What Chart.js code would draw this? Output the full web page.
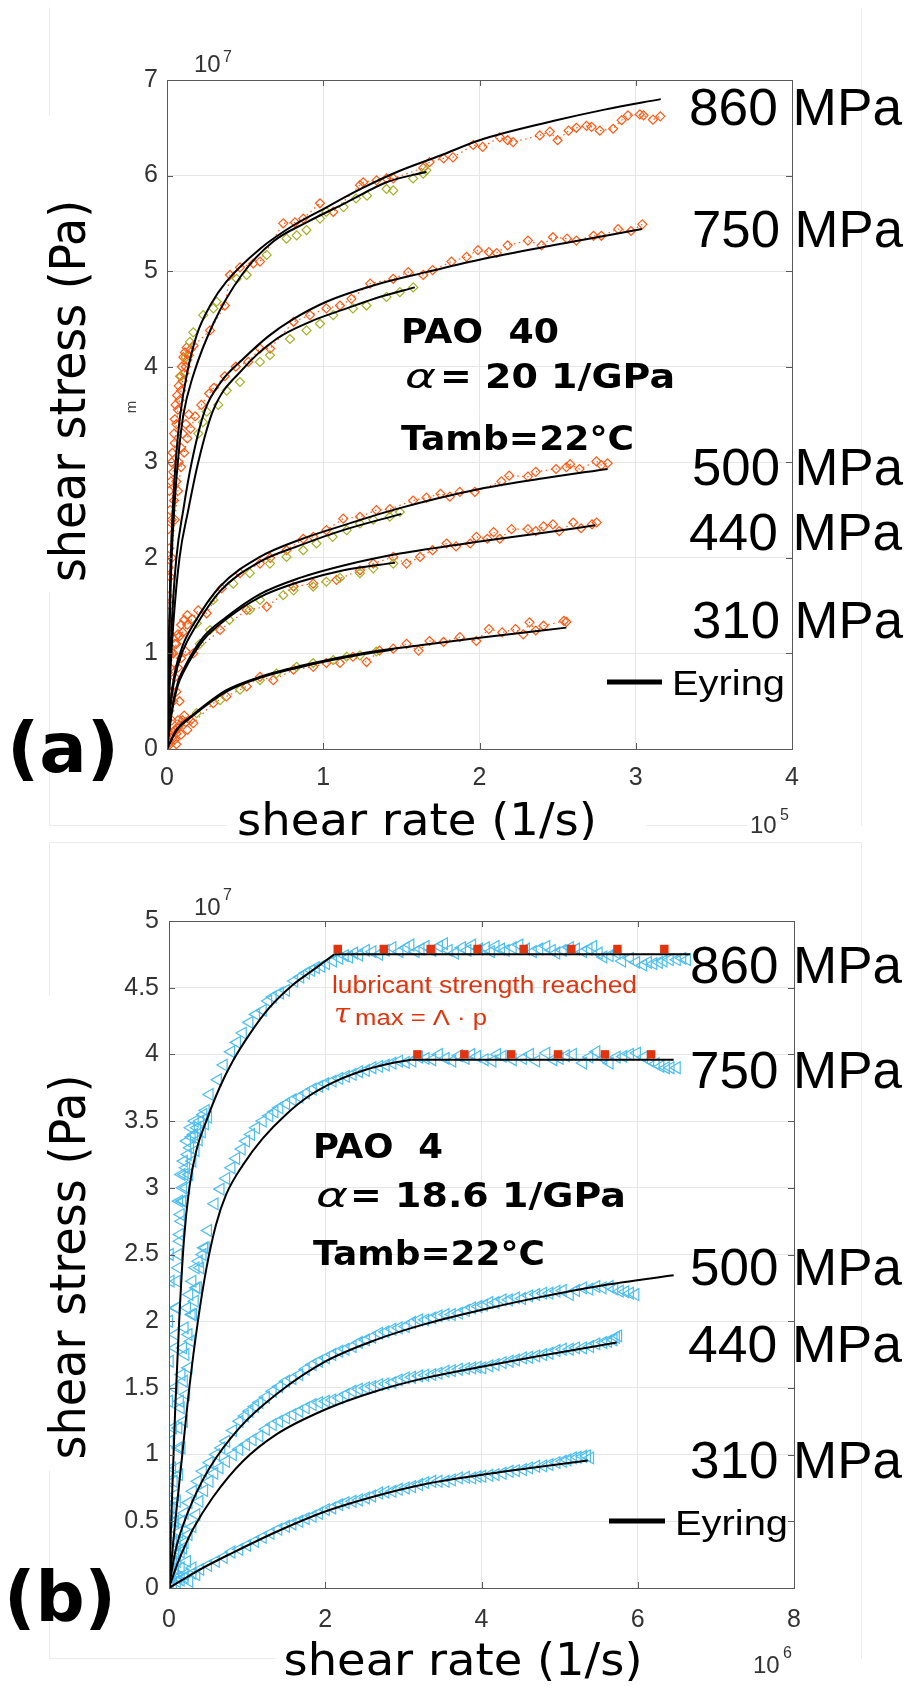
<!DOCTYPE html>
<html>
<head>
<meta charset="utf-8">
<title>PAO 40 / PAO 4 shear stress vs shear rate</title>
<script src="https://cdn.jsdelivr.net/npm/chart.js@4.4.1/dist/chart.umd.min.js"></script>
<style>
    html, body { margin: 0; padding: 0; background: #fff; }
    #page { position: relative; width: 904px; height: 1686px; overflow: hidden; background: #fff; }
    #page canvas { position: absolute; left: 0; }
    #chartA { top: 0; }
    #chartB { top: 840px; }
</style>
</head>
<body>
<div id="page">
    <canvas id="chartA" width="904" height="840"></canvas>
    <canvas id="chartB" width="904" height="846"></canvas>
</div>
<script>
// ---------- panel (a): PAO 40, x in 1e5 1/s, y in 1e7 Pa ----------
const xTicksA = [0, 1, 2, 3, 4];
const yTicksA = [0, 1, 2, 3, 4, 5, 6, 7];

// orange runs (to ~3e5 1/s)
const a860Orange = [[0.01,0.6],[0.015,1.2],[0.02,1.8],[0.03,2.4],[0.04,2.9],[0.05,3.2],[0.06,3.4],[0.07,3.55],[0.08,3.65],[0.09,3.75],[0.1,3.85],[0.11,3.93],[0.12,4.0],[0.13,4.07],[0.14,4.12],[0.15,4.18],[0.17,4.22],[0.275,4.38],[0.371,4.64],[0.403,4.96],[0.467,5.04],[0.552,5.08],[0.595,5.10],[0.744,5.50],[0.819,5.51],[0.872,5.55],[0.979,5.71],[1.064,5.62],[1.235,5.90],[1.256,5.93],[1.341,5.95],[1.405,5.97],[1.448,5.97],[1.64,6.08],[1.68,6.14],[1.77,6.18],[1.83,6.19],[1.96,6.32],[2.02,6.30],[2.13,6.40],[2.18,6.37],[2.215,6.35],[2.386,6.42],[2.45,6.46],[2.50,6.37],[2.57,6.47],[2.62,6.50],[2.685,6.52],[2.717,6.51],[2.77,6.47],[2.855,6.49],[2.91,6.58],[2.95,6.63],[3.026,6.64],[3.05,6.63],[3.11,6.585],[3.157,6.62]];
const a750Orange = [[0.01,0.5],[0.015,1.0],[0.02,1.5],[0.03,2.0],[0.05,2.4],[0.07,2.7],[0.09,2.95],[0.11,3.1],[0.13,3.25],[0.15,3.35],[0.18,3.48],[0.22,3.6],[0.27,3.72],[0.3,3.78],[0.37,3.9],[0.44,4.0],[0.52,4.05],[0.595,4.19],[0.66,4.19],[0.81,4.47],[0.915,4.54],[1.02,4.61],[1.107,4.64],[1.18,4.71],[1.30,4.87],[1.448,4.92],[1.544,4.99],[1.64,4.96],[1.70,5.01],[1.82,5.10],[1.917,5.15],[1.99,5.22],[2.06,5.20],[2.11,5.19],[2.18,5.27],[2.31,5.32],[2.397,5.27],[2.47,5.355],[2.56,5.34],[2.62,5.32],[2.73,5.37],[2.78,5.37],[2.887,5.44],[2.97,5.42],[3.042,5.49]];
const a500Orange = [[0.005,0.3],[0.01,0.6],[0.02,0.85],[0.04,1.0],[0.06,1.1],[0.08,1.18],[0.1,1.22],[0.13,1.3],[0.16,1.36],[0.2,1.45],[0.254,1.42],[0.35,1.68],[0.467,1.84],[0.595,1.94],[0.66,2.0],[0.765,2.08],[0.872,2.20],[0.936,2.22],[1.02,2.29],[1.128,2.41],[1.235,2.43],[1.34,2.50],[1.426,2.51],[1.575,2.60],[1.66,2.63],[1.75,2.67],[1.81,2.64],[1.874,2.69],[1.97,2.69],[2.14,2.80],[2.19,2.86],[2.31,2.85],[2.36,2.90],[2.49,2.93],[2.556,2.95],[2.58,2.98],[2.64,2.93],[2.748,3.01],[2.78,2.97],[2.82,2.99]];
const a440Orange = [[0.005,0.2],[0.015,0.4],[0.03,0.6],[0.05,0.75],[0.07,0.85],[0.09,0.95],[0.12,1.02],[0.168,1.00],[0.34,1.245],[0.51,1.455],[0.638,1.49],[0.81,1.70],[0.936,1.73],[1.085,1.77],[1.235,1.87],[1.32,1.94],[1.448,2.01],[1.533,1.94],[1.62,2.01],[1.70,2.08],[1.79,2.15],[1.85,2.12],[1.94,2.15],[1.98,2.22],[2.05,2.20],[2.09,2.27],[2.13,2.20],[2.205,2.30],[2.31,2.30],[2.36,2.28],[2.41,2.33],[2.47,2.35],[2.51,2.28],[2.60,2.37],[2.65,2.31],[2.72,2.35],[2.75,2.37]];
const a310Orange = [[0.005,0.05],[0.01,0.1],[0.02,0.15],[0.03,0.12],[0.04,0.18],[0.05,0.2],[0.06,0.16],[0.07,0.22],[0.08,0.25],[0.1,0.3],[0.12,0.28],[0.168,0.27],[0.296,0.48],[0.38,0.55],[0.51,0.655],[0.595,0.755],[0.68,0.72],[0.81,0.83],[0.936,0.86],[1.02,0.90],[1.107,0.90],[1.19,0.965],[1.277,0.91],[1.36,1.03],[1.448,1.05],[1.533,1.10],[1.61,1.03],[1.68,1.13],[1.77,1.12],[1.874,1.17],[1.98,1.13],[2.06,1.255],[2.145,1.22],[2.23,1.255],[2.28,1.20],[2.32,1.325],[2.36,1.24],[2.41,1.29],[2.54,1.34],[2.556,1.33]];
// start-up transients hugging the stress axis
const aStartOrange = [[0.0,0.4],[0.005,0.8],[0.0,1.1],[0.01,1.3],[0.005,1.6],[0.01,1.9],[0.015,2.1],[0.01,2.3],[0.02,2.5],[0.015,2.7],[0.025,2.8],[0.03,3.0],[0.035,3.1],[0.045,3.3],[0.05,3.45],[0.055,3.6],[0.065,3.7],[0.075,3.8],[0.085,3.9],[0.095,4.0],[0.105,4.1],[0.115,4.15],[0.125,4.2],[0.045,2.6],[0.06,2.8],[0.075,3.0],[0.09,3.15],[0.1,3.3],[0.12,3.4],[0.14,3.5],[0.02,1.2],[0.03,1.0],[0.05,1.1],[0.07,1.2],[0.09,1.3],[0.11,1.35],[0.13,1.4],[0.03,0.3],[0.05,0.1],[0.07,0.3],[0.09,0.15],[0.11,0.35],[0.13,0.2],[0.15,0.3],[0.04,0.5],[0.06,0.6],[0.08,0.5],[0.02,0.05],[0.06,0.05]];

// green runs (to ~1.6e5 1/s)
const a860Green = [[0.09,3.9],[0.12,4.1],[0.147,4.26],[0.168,4.36],[0.232,4.54],[0.296,4.61],[0.318,4.68],[0.446,4.92],[0.51,4.96],[0.638,5.17],[0.765,5.34],[0.83,5.375],[0.893,5.43],[0.979,5.55],[1.02,5.62],[1.13,5.67],[1.21,5.76],[1.28,5.79],[1.405,5.86],[1.448,5.845],[1.575,5.97],[1.64,6.02],[1.66,6.055]];
const a750Green = [[0.2,3.3],[0.23,3.42],[0.254,3.53],[0.328,3.60],[0.382,3.75],[0.467,3.84],[0.595,4.05],[0.659,4.12],[0.787,4.29],[0.893,4.38],[0.979,4.45],[1.064,4.54],[1.19,4.61],[1.277,4.64],[1.405,4.73],[1.49,4.78],[1.576,4.83]];
const a500Green = [[0.19,1.315],[0.296,1.56],[0.424,1.73],[0.53,1.84],[0.659,1.94],[0.765,2.01],[0.872,2.08],[0.957,2.15],[1.06,2.22],[1.15,2.29],[1.235,2.36],[1.32,2.40],[1.426,2.43],[1.49,2.48]];
const a440Green = [[0.21,1.10],[0.275,1.245],[0.40,1.35],[0.53,1.455],[0.595,1.56],[0.744,1.61],[0.81,1.66],[0.936,1.70],[1.02,1.75],[1.107,1.79],[1.235,1.84],[1.32,1.89],[1.448,1.94]];
const a310Green = [[0.19,0.375],[0.34,0.51],[0.467,0.62],[0.595,0.72],[0.70,0.79],[0.83,0.86],[0.936,0.90],[1.064,0.93],[1.15,0.965],[1.235,0.98],[1.34,1.02]];

// Eyring fits, long and short run for each pressure
const eyA860 = [[0,0],[0.01,1.0],[0.022,1.9],[0.04,2.6],[0.06,3.1],[0.085,3.5],[0.126,3.91],[0.19,4.33],[0.28,4.65],[0.38,4.89],[0.6,5.24],[0.81,5.48],[1.0,5.65],[1.24,5.86],[1.49,6.05],[1.75,6.21],[2.0,6.37],[2.47,6.57],[2.8,6.69],[3.16,6.80]];
const eyA860s = [[0,0],[0.012,1.0],[0.027,1.9],[0.05,2.6],[0.075,3.1],[0.105,3.5],[0.168,3.91],[0.296,4.45],[0.478,4.96],[0.68,5.31],[0.893,5.51],[1.15,5.72],[1.405,5.93],[1.66,6.04]];
const eyA750 = [[0,0],[0.012,0.6],[0.03,1.3],[0.06,2.0],[0.104,2.5],[0.158,3.0],[0.243,3.545],[0.35,3.85],[0.49,4.085],[0.65,4.32],[0.81,4.50],[1.02,4.68],[1.32,4.85],[1.66,4.99],[2.0,5.12],[2.47,5.27],[3.04,5.44]];
const eyA750s = [[0,0],[0.015,0.6],[0.04,1.3],[0.08,2.0],[0.136,2.5],[0.2,3.0],[0.296,3.545],[0.488,3.98],[0.70,4.29],[0.915,4.47],[1.15,4.61],[1.36,4.73],[1.586,4.83]];
const eyA500 = [[0,0],[0.02,0.45],[0.05,0.8],[0.1,1.08],[0.168,1.30],[0.339,1.70],[0.595,2.01],[0.85,2.19],[1.128,2.34],[1.49,2.52],[2.0,2.72],[2.4,2.83],[2.82,2.93]];
const eyA500s = [[0,0],[0.02,0.42],[0.05,0.75],[0.1,1.02],[0.168,1.24],[0.339,1.65],[0.595,1.96],[0.85,2.13],[1.128,2.29],[1.50,2.46]];
const eyA440 = [[0,0],[0.03,0.4],[0.07,0.7],[0.104,0.83],[0.232,1.17],[0.38,1.38],[0.595,1.62],[0.85,1.79],[1.13,1.92],[1.49,2.045],[2.0,2.17],[2.4,2.26],[2.74,2.34]];
const eyA440s = [[0,0],[0.03,0.38],[0.07,0.67],[0.104,0.80],[0.232,1.14],[0.38,1.36],[0.595,1.59],[0.85,1.75],[1.13,1.87],[1.46,1.95]];
const eyA310 = [[0,0],[0.06,0.2],[0.168,0.36],[0.38,0.615],[0.595,0.755],[0.915,0.893],[1.235,0.997],[1.62,1.085],[2.0,1.165],[2.556,1.27]];
const eyA310s = [[0,0],[0.06,0.19],[0.168,0.35],[0.38,0.60],[0.595,0.745],[0.915,0.88],[1.235,0.985],[1.45,1.04]];

// ---------- panel (b): PAO 4, x in 1e6 1/s, y in 1e7 Pa ----------
const xTicksB = [0, 2, 4, 6, 8];
const yTicksB = [0, 0.5, 1, 1.5, 2, 2.5, 3, 3.5, 4, 4.5, 5];

const b860Blue = [[0.0,0.3],[0.02,0.6],[0.04,0.9],[0.05,1.2],[0.07,1.5],[0.08,1.8],[0.1,2.1],[0.12,2.4],[0.14,2.6],[0.16,2.75],[0.19,2.9],[0.22,3.0],[0.26,3.1],[0.3,3.2],[0.34,3.28],[0.38,3.36],[0.42,3.42],[0.46,3.48],[0.5,3.53],[0.52,3.70],[0.626,3.81],[0.7,3.92],[0.796,4.02],[0.87,4.09],[0.945,4.16],[1.03,4.24],[1.115,4.30],[1.2,4.33],[1.27,4.40],[1.328,4.43],[1.42,4.46],[1.498,4.48],[1.604,4.55],[1.68,4.58],[1.753,4.61],[1.82,4.63],[1.88,4.65],[1.95,4.66],[2.01,4.68],[2.1,4.70],[2.18,4.72],[2.25,4.74],[2.306,4.73],[2.37,4.76],[2.434,4.745],[2.52,4.78],[2.604,4.77],[2.69,4.75],[2.774,4.78],[2.86,4.80],[2.95,4.77],[3.03,4.80],[3.09,4.82],[3.157,4.77],[3.22,4.79],[3.285,4.81],[3.37,4.78],[3.455,4.81],[3.52,4.83],[3.58,4.78],[3.66,4.76],[3.75,4.80],[3.82,4.78],[3.88,4.82],[3.97,4.79],[4.056,4.80],[4.12,4.77],[4.18,4.81],[4.25,4.79],[4.31,4.78],[4.4,4.80],[4.485,4.82],[4.57,4.79],[4.657,4.77],[4.74,4.79],[4.83,4.81],[4.9,4.78],[4.957,4.76],[5.04,4.78],[5.13,4.80],[5.21,4.79],[5.30,4.77],[5.37,4.79],[5.43,4.81],[5.5,4.76],[5.56,4.73],[5.64,4.74],[5.73,4.76],[5.8,4.70],[5.90,4.72],[5.98,4.69],[6.07,4.67],[6.13,4.69],[6.20,4.68],[6.27,4.69],[6.33,4.70],[6.41,4.71],[6.50,4.71],[6.57,4.72],[6.63,4.71]];
const b750Blue = [[0.02,0.2],[0.05,0.35],[0.08,0.5],[0.1,0.65],[0.13,0.85],[0.16,1.05],[0.19,1.25],[0.22,1.45],[0.25,1.65],[0.28,1.85],[0.31,2.05],[0.35,2.25],[0.4,2.4],[0.45,2.55],[0.5,2.68],[0.583,2.88],[0.66,2.99],[0.732,3.07],[0.8,3.15],[0.86,3.22],[0.93,3.29],[0.987,3.35],[1.05,3.40],[1.115,3.45],[1.2,3.50],[1.285,3.54],[1.35,3.57],[1.413,3.60],[1.5,3.63],[1.583,3.66],[1.67,3.68],[1.753,3.71],[1.84,3.74],[1.923,3.76],[2.0,3.78],[2.094,3.80],[2.18,3.82],[2.264,3.835],[2.35,3.85],[2.434,3.87],[2.52,3.88],[2.604,3.90],[2.69,3.91],[2.774,3.92],[2.86,3.935],[2.945,3.95],[3.03,3.94],[3.115,3.95],[3.2,3.98],[3.285,3.97],[3.37,3.96],[3.455,4.0],[3.54,3.97],[3.626,3.95],[3.71,3.99],[3.796,3.97],[3.87,4.0],[3.945,3.985],[4.04,3.96],[4.14,3.95],[4.2,4.0],[4.27,3.985],[4.4,3.96],[4.53,3.97],[4.62,4.0],[4.70,3.95],[4.83,4.01],[4.92,3.96],[5.0,3.97],[5.08,3.99],[5.17,4.0],[5.30,3.935],[5.38,3.98],[5.47,4.02],[5.56,3.97],[5.64,3.935],[5.73,3.98],[5.815,3.985],[5.9,4.0],[5.99,4.01],[6.08,3.98],[6.16,3.95],[6.23,3.93],[6.29,3.91],[6.36,3.90],[6.42,3.90],[6.50,3.90]];
const b500Blue = [[0.02,0.1],[0.05,0.18],[0.08,0.26],[0.1,0.35],[0.13,0.42],[0.16,0.5],[0.2,0.56],[0.25,0.64],[0.306,0.725],[0.37,0.80],[0.434,0.875],[0.52,0.94],[0.604,1.0],[0.67,1.05],[0.732,1.10],[0.82,1.18],[0.902,1.25],[0.97,1.29],[1.03,1.325],[1.1,1.36],[1.157,1.39],[1.24,1.43],[1.328,1.475],[1.41,1.51],[1.498,1.55],[1.58,1.57],[1.668,1.60],[1.75,1.64],[1.838,1.675],[1.92,1.70],[2.008,1.725],[2.09,1.75],[2.18,1.775],[2.26,1.79],[2.35,1.81],[2.43,1.84],[2.52,1.86],[2.6,1.88],[2.69,1.91],[2.77,1.92],[2.86,1.94],[2.94,1.95],[3.03,1.96],[3.11,1.99],[3.2,2.01],[3.28,2.01],[3.37,2.025],[3.45,2.04],[3.54,2.05],[3.62,2.05],[3.71,2.06],[3.8,2.08],[3.88,2.10],[3.96,2.11],[4.03,2.12],[4.10,2.14],[4.18,2.14],[4.27,2.16],[4.35,2.16],[4.44,2.175],[4.52,2.17],[4.61,2.19],[4.7,2.2],[4.79,2.21],[4.87,2.21],[4.96,2.225],[5.04,2.23],[5.13,2.20],[5.21,2.23],[5.30,2.25],[5.38,2.24],[5.47,2.26],[5.55,2.25],[5.64,2.26],[5.7,2.24],[5.77,2.225],[5.84,2.22],[5.90,2.21],[5.97,2.20]];
const b440Blue = [[0.03,0.08],[0.07,0.15],[0.1,0.2],[0.15,0.27],[0.2,0.34],[0.25,0.40],[0.3,0.46],[0.35,0.55],[0.39,0.65],[0.45,0.73],[0.519,0.80],[0.58,0.86],[0.647,0.90],[0.73,0.95],[0.817,1.0],[0.9,1.04],[0.987,1.075],[1.07,1.11],[1.157,1.14],[1.24,1.19],[1.328,1.225],[1.41,1.25],[1.498,1.275],[1.58,1.30],[1.668,1.325],[1.75,1.35],[1.838,1.375],[1.92,1.39],[2.008,1.40],[2.09,1.41],[2.18,1.425],[2.26,1.45],[2.35,1.475],[2.43,1.49],[2.52,1.50],[2.6,1.51],[2.69,1.525],[2.77,1.53],[2.86,1.54],[2.94,1.56],[3.03,1.575],[3.11,1.58],[3.2,1.59],[3.28,1.595],[3.37,1.60],[3.45,1.61],[3.54,1.625],[3.62,1.63],[3.71,1.64],[3.8,1.645],[3.88,1.65],[3.95,1.655],[4.01,1.65],[4.1,1.665],[4.18,1.675],[4.27,1.69],[4.36,1.70],[4.44,1.71],[4.53,1.725],[4.61,1.73],[4.70,1.74],[4.79,1.75],[4.87,1.76],[4.96,1.78],[5.04,1.79],[5.13,1.79],[5.21,1.80],[5.30,1.80],[5.39,1.81],[5.47,1.83],[5.56,1.84],[5.62,1.85],[5.69,1.86],[5.72,1.88],[5.75,1.89]];
const b310Blue = [[0.05,0.03],[0.1,0.05],[0.15,0.06],[0.2,0.08],[0.3,0.11],[0.4,0.14],[0.5,0.17],[0.6,0.2],[0.7,0.23],[0.8,0.27],[0.9,0.29],[1.0,0.32],[1.1,0.35],[1.2,0.38],[1.3,0.41],[1.4,0.44],[1.498,0.4625],[1.58,0.48],[1.668,0.50],[1.75,0.52],[1.838,0.5375],[1.92,0.56],[2.008,0.5875],[2.09,0.60],[2.18,0.625],[2.26,0.64],[2.35,0.65],[2.43,0.66],[2.52,0.675],[2.6,0.69],[2.69,0.7125],[2.77,0.72],[2.86,0.725],[2.94,0.74],[3.03,0.75],[3.11,0.76],[3.2,0.775],[3.28,0.79],[3.37,0.80],[3.45,0.80],[3.54,0.80],[3.62,0.81],[3.71,0.825],[3.8,0.83],[3.88,0.825],[3.95,0.835],[4.01,0.8375],[4.1,0.845],[4.18,0.85],[4.27,0.86],[4.36,0.875],[4.44,0.88],[4.53,0.8875],[4.61,0.90],[4.70,0.9125],[4.79,0.915],[4.87,0.925],[4.96,0.94],[5.04,0.95],[5.1,0.96],[5.17,0.975],[5.23,0.98],[5.30,0.9875],[5.35,0.99],[5.39,0.975]];
// low-rate scatter near the origin, along the stress axis and in the start-up ramps
const bNearZero = [[0.0,0.5],[0.0,0.8],[0.01,1.1],[0.0,1.4],[0.01,1.7],[0.0,2.0],[0.02,2.3],[0.01,2.5],[0.01,0.05],[0.03,0.1],[0.05,0.2],[0.08,0.12],[0.1,0.25],[0.12,0.08],[0.15,0.15],[0.18,0.3],[0.2,0.1],[0.23,0.2],[0.26,0.05],[0.3,0.15],[0.35,0.1],[0.0,0.3]];
const bStartUp = [[0.12,2.5],[0.14,2.65],[0.15,2.8],[0.17,2.9],[0.18,3.0],[0.2,3.1],[0.22,3.15],[0.24,3.25],[0.27,3.3],[0.29,3.38],[0.32,3.4],[0.36,3.45],[0.4,3.5],[0.44,3.55],[0.47,3.58],[0.13,2.9],[0.16,3.1],[0.19,3.2],[0.23,3.35],[0.28,3.45],[0.33,3.5],[0.1,2.3],[0.09,2.1],[0.08,1.9],[0.14,1.4],[0.16,1.6],[0.18,1.8],[0.2,1.95],[0.23,2.1],[0.26,2.2],[0.3,2.3],[0.34,2.4],[0.38,2.45],[0.43,2.5],[0.47,2.55],[0.12,1.2],[0.15,1.35],[0.19,1.55],[0.21,1.75],[0.25,1.9],[0.29,2.05],[0.33,2.15],[0.37,2.25],[0.06,0.5],[0.08,0.7],[0.1,0.9],[0.12,1.05],[0.06,0.8],[0.05,0.6]];

const eyB860 = [[0,0],[0.04,0.7],[0.08,1.35],[0.13,2.0],[0.19,2.6],[0.26,3.0],[0.35,3.28],[0.477,3.50],[0.647,3.75],[0.817,3.95],[1.03,4.15],[1.285,4.35],[1.583,4.52],[1.838,4.63],[2.115,4.75]];
const capB860 = [[2.115,4.75],[6.67,4.75]];
const eyB750 = [[0,0],[0.08,0.5],[0.17,1.0],[0.26,1.5],[0.37,2.0],[0.48,2.4],[0.6,2.72],[0.732,2.95],[0.945,3.17],[1.2,3.37],[1.498,3.55],[1.796,3.69],[2.136,3.80],[2.519,3.885],[2.86,3.935],[3.1,3.96]];
const capB750 = [[3.1,3.96],[6.46,3.96]];
const eyB500 = [[0,0],[0.05,0.18],[0.1,0.32],[0.179,0.47],[0.3,0.65],[0.519,0.90],[0.902,1.20],[1.37,1.45],[2.008,1.70],[2.647,1.86],[3.285,1.98],[3.966,2.08],[4.70,2.175],[5.56,2.27],[6.46,2.345]];
const eyB440 = [[0,0],[0.1,0.17],[0.2,0.31],[0.306,0.44],[0.562,0.68],[0.945,0.95],[1.37,1.15],[2.008,1.34],[2.647,1.475],[3.285,1.575],[3.966,1.655],[4.70,1.735],[5.73,1.84]];
const eyB310 = [[0,0],[0.4,0.14],[0.8,0.26],[1.37,0.42],[2.008,0.575],[2.647,0.69],[3.285,0.78],[3.966,0.845],[4.70,0.905],[5.36,0.955]];

// lubricant strength markers (tau_max = Lambda * p)
const limitB860 = [[2.16,4.79],[2.75,4.79],[3.35,4.79],[3.95,4.79],[4.54,4.79],[5.15,4.79],[5.74,4.79],[6.34,4.79]];
const limitB750 = [[3.18,4.0],[3.78,4.0],[4.38,4.0],[4.98,4.0],[5.58,4.0],[6.17,4.0]];

// ---------- labels ----------
const pressureLabels = ['860 MPa', '750 MPa', '500 MPa', '440 MPa', '310 MPa'];
const fluidTextA = ['PAO  40', '= 20 1/GPa', 'Tamb=22°C'];
const fluidTextB = ['PAO  4', '= 18.6 1/GPa', 'Tamb=22°C'];
const yTitle = 'shear stress (Pa)';
const xTitle = 'shear rate (1/s)';
const legendLabel = 'Eyring';
const limitText = ['lubricant strength reached', 'τ', 'max = Λ · p'];

const ORANGE = '#ff5a14';
const GREEN = '#a3b225';
const BLUE = '#4dbeee';
const RED = '#e2330d';

const asXY = arr => arr.map(([x, y]) => ({ x, y }));

function eyringLine(arr, smooth = true) {
    return {
        data: asXY(arr), showLine: true, borderColor: '#000', borderWidth: 2,
        pointRadius: 0, cubicInterpolationMode: smooth ? 'monotone' : 'default',
        tension: 0, order: 1
    };
}

function diamonds(arr, color, dotted) {
    return {
        data: asXY(arr), showLine: dotted, borderColor: color, borderWidth: 1.2,
        borderDash: [1.5, 3.5], pointStyle: 'rectRot', pointRadius: 4.5,
        pointBorderColor: color, pointBackgroundColor: 'rgba(0,0,0,0)',
        pointBorderWidth: 1.2, order: 3
    };
}

function triangles(arr) {
    return {
        data: asXY(arr), showLine: false, pointStyle: 'triangle', pointRotation: -90,
        pointRadius: 6.8, pointBorderColor: BLUE, pointBackgroundColor: 'rgba(0,0,0,0)',
        pointBorderWidth: 1.2, order: 3
    };
}

function squares(arr) {
    return {
        data: asXY(arr), showLine: false, pointStyle: 'rect', pointRadius: 6,
        pointBackgroundColor: RED, pointBorderColor: RED, pointBorderWidth: 0, order: 0
    };
}

function axis(min, max, ticks, isY) {
    return {
        type: 'linear', min, max,
        afterBuildTicks: s => { s.ticks = ticks.map(v => ({ value: v })); },
        afterFit: s => { if (isY) s.width = 0; else s.height = 0; },
        ticks: { display: false },
        grid: { color: '#e6e6e6', lineWidth: 1, drawTicks: false },
        border: { display: false }
    };
}

// text squeezed or stretched horizontally to a given width
function fitText(ctx, t) {
    ctx.save();
    ctx.font = t.font;
    ctx.fillStyle = t.color || '#000';
    ctx.textBaseline = 'alphabetic';
    ctx.textAlign = 'left';
    ctx.translate(t.x, t.y);
    if (t.rot) ctx.rotate(t.rot);
    const w = ctx.measureText(t.text).width;
    ctx.scale(t.w ? t.w / w : 1, 1);
    const dx = t.align === 'center' ? -w / 2 : t.align === 'right' ? -w : 0;
    ctx.fillText(t.text, dx, 0);
    ctx.restore();
}

function overlay(opt) {
    return {
        id: 'overlay',
        beforeDraw(chart) {
            const ctx = chart.ctx;
            ctx.save();
            ctx.strokeStyle = '#ebebeb';
            ctx.lineWidth = 1;
            for (const [x1, y1, x2, y2] of opt.frames) {
                ctx.beginPath();
                ctx.moveTo(x1 + 0.5, y1 + 0.5);
                ctx.lineTo(x2 + 0.5, y2 + 0.5);
                ctx.stroke();
            }
            ctx.restore();
        },
        afterDraw(chart) {
            const { ctx, chartArea: a, scales: { x, y } } = chart;
            ctx.save();
            ctx.strokeStyle = '#5a5a5a';
            ctx.lineWidth = 1;
            ctx.strokeRect(Math.round(a.left) + 0.5, Math.round(a.top) + 0.5,
                Math.round(a.right - a.left), Math.round(a.bottom - a.top));
            ctx.beginPath();
            for (const v of opt.xTicks) {
                const px = Math.round(x.getPixelForValue(v)) + 0.5;
                ctx.moveTo(px, a.bottom); ctx.lineTo(px, a.bottom - 6);
                ctx.moveTo(px, a.top); ctx.lineTo(px, a.top + 6);
            }
            for (const v of opt.yTicks) {
                const py = Math.round(y.getPixelForValue(v)) + 0.5;
                ctx.moveTo(a.left, py); ctx.lineTo(a.left + 6, py);
                ctx.moveTo(a.right, py); ctx.lineTo(a.right - 6, py);
            }
            ctx.stroke();

            ctx.fillStyle = '#333';
            ctx.font = "25px 'Liberation Sans'";
            ctx.textAlign = 'center';
            ctx.textBaseline = 'alphabetic';
            for (const v of opt.xTicks) ctx.fillText(String(v), x.getPixelForValue(v), a.bottom + opt.xGap);
            ctx.textAlign = 'right';
            ctx.textBaseline = 'middle';
            for (const v of opt.yTicks) ctx.fillText(String(v), a.left - opt.yGap, y.getPixelForValue(v));

            // legend sample
            ctx.strokeStyle = '#000';
            ctx.lineWidth = 5;
            ctx.beginPath();
            ctx.moveTo(opt.legend[0], opt.legend[2]);
            ctx.lineTo(opt.legend[1], opt.legend[2]);
            ctx.stroke();
            ctx.restore();

            for (const t of opt.texts) fitText(ctx, t);
        }
    };
}

const F_TICK = "24px 'Liberation Sans'";
const F_EXP = "16px 'Liberation Sans'";
const F_P = "51px 'Liberation Sans'";
const F_LEG = "35px 'Liberation Sans'";
const F_BOLD = "bold 34px 'DejaVu Sans'";
const F_ALPHA = "italic 34px 'DejaVu Sans'";
const F_PANEL = "bold 70px 'DejaVu Sans'";
const F_YT = "50px 'DejaVu Sans'";
const F_XT = "44px 'DejaVu Sans'";
const UP = -Math.PI / 2;

const textsA = [
    { text: '10', x: 194, y: 72, font: F_TICK, color: '#333' },
    { text: '7', x: 223, y: 62, font: F_EXP, color: '#333' },
    { text: '10', x: 750, y: 833, font: F_TICK, color: '#333' },
    { text: '5', x: 780, y: 820, font: F_EXP, color: '#333' },
    { text: pressureLabels[0], x: 689, y: 125, font: F_P, w: 213 },
    { text: pressureLabels[1], x: 692, y: 247, font: F_P, w: 211 },
    { text: pressureLabels[2], x: 692, y: 485, font: F_P, w: 211 },
    { text: pressureLabels[3], x: 689, y: 550, font: F_P, w: 213 },
    { text: pressureLabels[4], x: 692, y: 638, font: F_P, w: 211 },
    { text: legendLabel, x: 672, y: 695, font: F_LEG, w: 113 },
    { text: fluidTextA[0], x: 401, y: 343, font: F_BOLD, w: 158 },
    { text: 'α', x: 405, y: 388, font: F_ALPHA, w: 31 },
    { text: fluidTextA[1], x: 440, y: 388, font: F_BOLD, w: 235 },
    { text: fluidTextA[2], x: 401, y: 450, font: F_BOLD, w: 233 },
    { text: '(a)', x: 7, y: 772, font: F_PANEL, w: 112 },
    { text: yTitle, x: 85, y: 391, font: F_YT, w: 382, align: 'center', rot: UP },
    { text: xTitle, x: 417, y: 835, font: F_XT, w: 360, align: 'center' },
    { text: 'm', x: 136, y: 407, font: "15px 'Liberation Sans'", color: '#444', align: 'center', rot: UP }
];

const textsB = [
    { text: '10', x: 194, y: 75, font: F_TICK, color: '#333' },
    { text: '7', x: 223, y: 60, font: F_EXP, color: '#333' },
    { text: '10', x: 753, y: 833, font: F_TICK, color: '#333' },
    { text: '6', x: 783, y: 818, font: F_EXP, color: '#333' },
    { text: pressureLabels[0], x: 690, y: 143, font: F_P, w: 212 },
    { text: pressureLabels[1], x: 690, y: 248, font: F_P, w: 212 },
    { text: pressureLabels[2], x: 690, y: 445, font: F_P, w: 212 },
    { text: pressureLabels[3], x: 688, y: 522, font: F_P, w: 214 },
    { text: pressureLabels[4], x: 690, y: 638, font: F_P, w: 212 },
    { text: legendLabel, x: 675, y: 695, font: F_LEG, w: 113 },
    { text: fluidTextB[0], x: 313, y: 318, font: F_BOLD, w: 130 },
    { text: 'α', x: 316, y: 367, font: F_ALPHA, w: 32 },
    { text: fluidTextB[1], x: 350, y: 367, font: F_BOLD, w: 276 },
    { text: fluidTextB[2], x: 313, y: 425, font: F_BOLD, w: 232 },
    { text: '(b)', x: 4, y: 781, font: F_PANEL, w: 112 },
    { text: yTitle, x: 85, y: 427, font: F_YT, w: 385, align: 'center', rot: UP },
    { text: xTitle, x: 463, y: 835, font: F_XT, w: 359, align: 'center' },
    { text: limitText[0], x: 332, y: 153, font: "23px 'Liberation Sans'", color: RED, w: 305 },
    { text: limitText[1], x: 334, y: 183, font: "italic 28px 'DejaVu Serif'", color: RED, w: 16 },
    { text: limitText[2], x: 355, y: 185, font: "22px 'Liberation Sans'", color: RED, w: 132 }
];

function makeChart(id, datasets, xr, yr, pad, opt) {
    return new Chart(document.getElementById(id), {
        type: 'scatter',
        data: { datasets },
        options: {
            responsive: false,
            animation: false,
            layout: { padding: pad },
            plugins: { legend: { display: false }, tooltip: { enabled: false } },
            scales: {
                x: axis(xr[0], xr[1], opt.xTicks, false),
                y: axis(yr[0], yr[1], opt.yTicks, true)
            }
        },
        plugins: [overlay(opt)]
    });
}

makeChart('chartA', [
    eyringLine(eyA860), eyringLine(eyA860s), eyringLine(eyA750), eyringLine(eyA750s),
    eyringLine(eyA500), eyringLine(eyA500s), eyringLine(eyA440), eyringLine(eyA440s),
    eyringLine(eyA310), eyringLine(eyA310s),
    diamonds(a860Green, GREEN, false), diamonds(a750Green, GREEN, false),
    diamonds(a500Green, GREEN, false), diamonds(a440Green, GREEN, false),
    diamonds(a310Green, GREEN, false),
    diamonds(a860Orange, ORANGE, true), diamonds(a750Orange, ORANGE, true),
    diamonds(a500Orange, ORANGE, true), diamonds(a440Orange, ORANGE, true),
    diamonds(a310Orange, ORANGE, true), diamonds(aStartOrange, ORANGE, false)
], [0, 4], [0, 7], { left: 167, right: 112, top: 80, bottom: 91 }, {
    xTicks: xTicksA, yTicks: yTicksA, xGap: 36, yGap: 9,
    legend: [607, 662, 682],
    texts: textsA,
    frames: [[49, 7, 49, 115], [49, 592, 49, 825], [49, 825, 226, 825], [646, 825, 747, 825], [861, 7, 861, 825]]
});

makeChart('chartB', [
    squares(limitB860), squares(limitB750),
    eyringLine(eyB860), eyringLine(capB860, false), eyringLine(eyB750), eyringLine(capB750, false),
    eyringLine(eyB500), eyringLine(eyB440), eyringLine(eyB310),
    triangles(b860Blue), triangles(b750Blue), triangles(b500Blue),
    triangles(b440Blue), triangles(b310Blue), triangles(bNearZero), triangles(bStartUp)
], [0, 8], [0, 5], { left: 169, right: 110, top: 81, bottom: 98 }, {
    xTicks: xTicksB, yTicks: yTicksB, xGap: 39, yGap: 10,
    legend: [609, 665, 681],
    texts: textsB,
    frames: [[49, 2, 861, 2], [49, 2, 49, 155], [49, 630, 49, 818], [49, 818, 275, 818], [861, 2, 861, 818]]
});
</script>
</body>
</html>
